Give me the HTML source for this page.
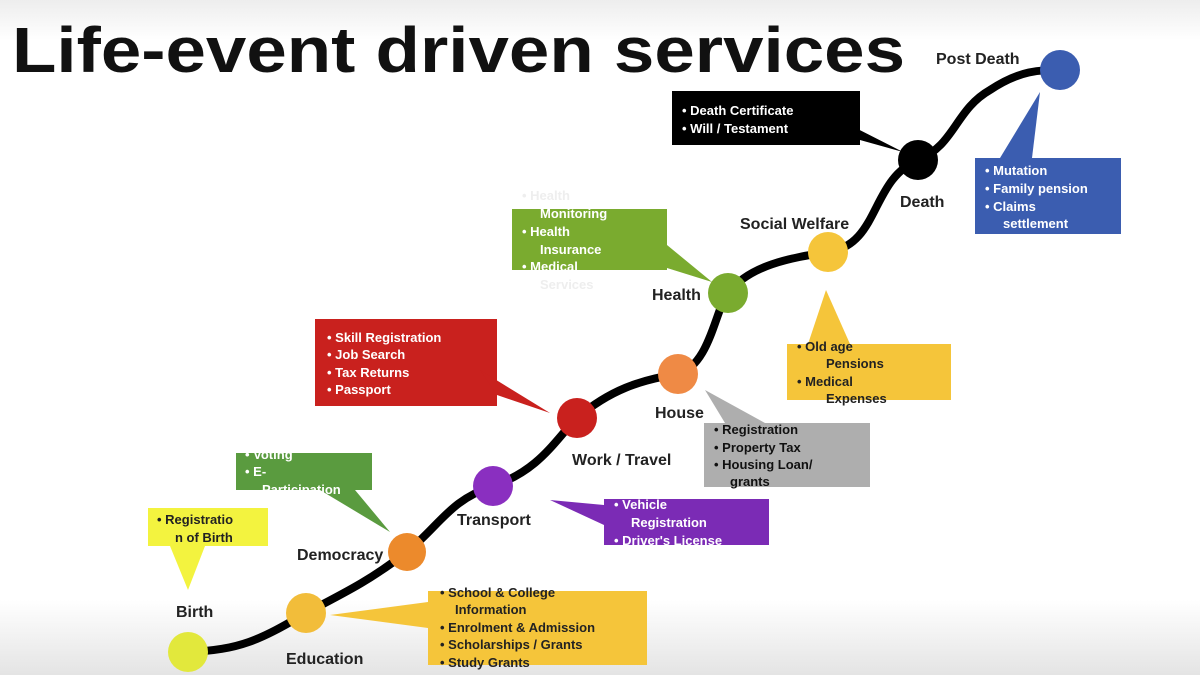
<!DOCTYPE html>
<html><head><meta charset="utf-8"><style>
html,body{margin:0;padding:0;}
body{width:1200px;height:675px;overflow:hidden;background:linear-gradient(#ededed 0px,#fff 40px,#fff 600px,#e4e4e4 675px);font-family:"Liberation Sans",sans-serif;}
svg{display:block;}
svg text{font-family:"Liberation Sans",sans-serif;font-weight:bold;}
</style></head><body>
<svg width="1200" height="675" viewBox="0 0 1200 675">
<text x="12" y="72" font-size="64" fill="#111" textLength="893" lengthAdjust="spacingAndGlyphs">Life-event driven services</text>
<path d="M188,652 C240,650 260,640 306,613 C350,590 370,580 407,552 C440,525 450,500 493,486 C540,470 555,440 577,418 C610,390 640,380 678,374 C710,365 715,310 728,293 C750,265 790,258 828,252 C880,245 870,180 918,160 C955,145 955,110 990,90 C1020,70 1040,70 1060,70" fill="none" stroke="#000" stroke-width="8"/>
<g font-size="13">
<rect x="672" y="91" width="188" height="54" fill="#000"/><polygon points="840,120 860,140 903,152" fill="#000"/>
<text fill="#fff"><tspan x="682" y="115">•  Death Certificate</tspan><tspan x="682" y="133">•  Will /  Testament</tspan></text>

<rect x="975" y="158" width="146" height="76" fill="#3b5db0"/><polygon points="1000,158 1032,158 1040,92" fill="#3b5db0"/>
<text fill="#fff"><tspan x="985" y="175">•  Mutation</tspan><tspan x="985" y="193">•  Family pension</tspan><tspan x="985" y="211">•  Claims</tspan><tspan x="1003" y="228">settlement</tspan></text>

<rect x="512" y="209" width="155" height="61" fill="#7aab2f"/><polygon points="667,245 667,268 712,282" fill="#7aab2f"/>
<text fill="#fff"><tspan x="522" y="200" fill="#eee">•   Health</tspan><tspan x="540" y="218">Monitoring</tspan><tspan x="522" y="236">•   Health</tspan><tspan x="540" y="254">Insurance</tspan><tspan x="522" y="271">•   Medical</tspan><tspan x="540" y="289" fill="#eee">Services</tspan></text>

<rect x="787" y="344" width="164" height="56" fill="#f5c53a"/><polygon points="808,344 850,344 826,290" fill="#f5c53a"/>
<text fill="#222"><tspan x="797" y="351">•    Old age</tspan><tspan x="826" y="368">Pensions</tspan><tspan x="797" y="386">•    Medical</tspan><tspan x="826" y="403">Expenses</tspan></text>

<rect x="315" y="319" width="182" height="87" fill="#c9211e"/><polygon points="480,370 497,395 550,413" fill="#c9211e"/>
<text fill="#fff"><tspan x="327" y="342">•  Skill Registration</tspan><tspan x="327" y="359">•  Job Search</tspan><tspan x="327" y="377">•  Tax Returns</tspan><tspan x="327" y="394">•  Passport</tspan></text>

<rect x="704" y="423" width="166" height="64" fill="#aeaeae"/><polygon points="725,423 765,423 705,390" fill="#aeaeae"/>
<text fill="#111"><tspan x="714" y="434">•  Registration</tspan><tspan x="714" y="452">•  Property Tax</tspan><tspan x="714" y="469">•  Housing Loan/</tspan><tspan x="730" y="486">grants</tspan></text>

<rect x="604" y="499" width="165" height="46" fill="#7b2bb5"/><polygon points="604,505 604,525 550,500" fill="#7b2bb5"/>
<text fill="#fff"><tspan x="614" y="509">•  Vehicle</tspan><tspan x="631" y="527">Registration</tspan><tspan x="614" y="545">•  Driver's License</tspan></text>

<rect x="236" y="453" width="136" height="37" fill="#5a9b3f"/><polygon points="320,490 355,490 390,532" fill="#5a9b3f"/>
<text fill="#fff"><tspan x="245" y="459">•  Voting</tspan><tspan x="245" y="476">•  E-</tspan><tspan x="262" y="494">Participation</tspan></text>

<rect x="148" y="508" width="120" height="38" fill="#f3f33f"/><polygon points="170,546 205,546 188,590" fill="#f3f33f"/>
<text fill="#222"><tspan x="157" y="524">•  Registratio</tspan><tspan x="175" y="542">n of Birth</tspan></text>

<rect x="428" y="591" width="219" height="74" fill="#f5c53a"/><polygon points="428,602 428,628 330,615" fill="#f5c53a"/>
<text fill="#222"><tspan x="440" y="597">•  School &amp; College</tspan><tspan x="455" y="614">Information</tspan><tspan x="440" y="632">•  Enrolment &amp; Admission</tspan><tspan x="440" y="649">•  Scholarships / Grants</tspan><tspan x="440" y="667">•  Study Grants</tspan></text>
</g>
<circle cx="188" cy="652" r="20" fill="#e2e83c"/>
<circle cx="306" cy="613" r="20" fill="#f2bd3a"/>
<circle cx="407" cy="552" r="19" fill="#ec8a2c"/>
<circle cx="493" cy="486" r="20" fill="#8a2fc0"/>
<circle cx="577" cy="418" r="20" fill="#c9211e"/>
<circle cx="678" cy="374" r="20" fill="#ef8a45"/>
<circle cx="728" cy="293" r="20" fill="#7aab2f"/>
<circle cx="828" cy="252" r="20" fill="#f5c53a"/>
<circle cx="918" cy="160" r="20" fill="#000"/>
<circle cx="1060" cy="70" r="20" fill="#3b5db0"/>
<g font-size="16" fill="#222">
<text x="176" y="617">Birth</text>
<text x="286" y="664">Education</text>
<text x="297" y="560">Democracy</text>
<text x="457" y="525">Transport</text>
<text x="572" y="465">Work / Travel</text>
<text x="655" y="418">House</text>
<text x="652" y="300">Health</text>
<text x="740" y="229">Social Welfare</text>
<text x="900" y="207">Death</text>
<text x="936" y="64">Post Death</text>
</g>
</svg>
</body></html>
